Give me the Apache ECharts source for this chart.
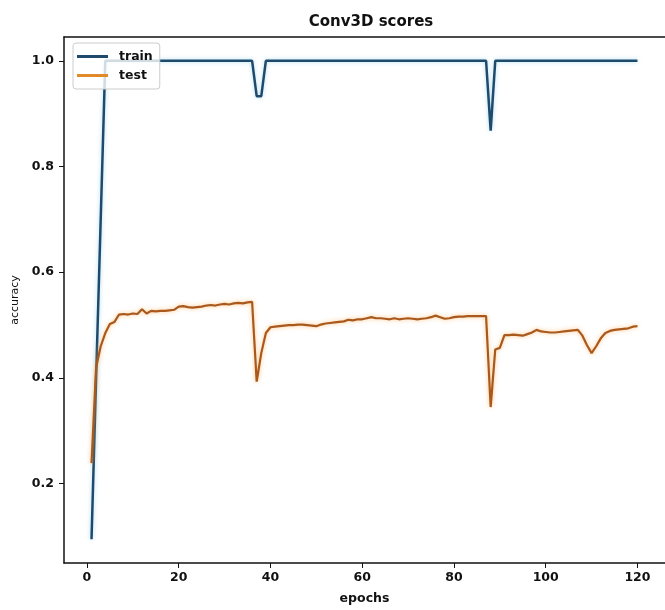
<!DOCTYPE html>
<html>
<head>
<meta charset="utf-8">
<script src="https://cdn.jsdelivr.net/npm/echarts@6/dist/echarts.min.js"></script>
<style>html,body{margin:0;padding:0;background:#fff;}#c{width:665px;height:610px;}</style>
</head>
<body>
<div id="c"></div>
<script>
const titleText = 'Conv3D scores';
const xName = 'epochs';
const yName = 'accuracy';
const seriesNames = ['train', 'test'];
const xTicks = [0, 20, 40, 60, 80, 100, 120];
const yTicks = [0.2, 0.4, 0.6, 0.8, 1.0];

// epochs 1..120
const epochs = Array.from({length: 120}, (_, i) => i + 1);

const trainAcc = [
  0.095, 0.40, 0.70, 1.0, 1.0, 1.0, 1.0, 1.0, 1.0, 1.0,
  1.0, 1.0, 1.0, 1.0, 1.0, 1.0, 1.0, 1.0, 1.0, 1.0,
  1.0, 1.0, 1.0, 1.0, 1.0, 1.0, 1.0, 1.0, 1.0, 1.0,
  1.0, 1.0, 1.0, 1.0, 1.0, 1.0, 0.933, 0.933, 1.0, 1.0,
  1.0, 1.0, 1.0, 1.0, 1.0, 1.0, 1.0, 1.0, 1.0, 1.0,
  1.0, 1.0, 1.0, 1.0, 1.0, 1.0, 1.0, 1.0, 1.0, 1.0,
  1.0, 1.0, 1.0, 1.0, 1.0, 1.0, 1.0, 1.0, 1.0, 1.0,
  1.0, 1.0, 1.0, 1.0, 1.0, 1.0, 1.0, 1.0, 1.0, 1.0,
  1.0, 1.0, 1.0, 1.0, 1.0, 1.0, 1.0, 0.868, 1.0, 1.0,
  1.0, 1.0, 1.0, 1.0, 1.0, 1.0, 1.0, 1.0, 1.0, 1.0,
  1.0, 1.0, 1.0, 1.0, 1.0, 1.0, 1.0, 1.0, 1.0, 1.0,
  1.0, 1.0, 1.0, 1.0, 1.0, 1.0, 1.0, 1.0, 1.0, 1.0
];

const testAcc = [
  0.239, 0.420, 0.460, 0.485, 0.502, 0.506, 0.520, 0.521, 0.520, 0.522,
  0.521, 0.530, 0.522, 0.527, 0.526, 0.527, 0.527, 0.528, 0.529, 0.535,
  0.536, 0.534, 0.533, 0.534, 0.535, 0.537, 0.538, 0.537, 0.539, 0.540,
  0.539, 0.541, 0.542, 0.541, 0.543, 0.544, 0.393, 0.447, 0.485, 0.496,
  0.497, 0.498, 0.499, 0.500, 0.500, 0.501, 0.501, 0.500, 0.499, 0.498,
  0.501, 0.503, 0.504, 0.505, 0.506, 0.507, 0.510, 0.509, 0.511, 0.511,
  0.513, 0.515, 0.513, 0.513, 0.512, 0.511, 0.513, 0.511, 0.512, 0.513,
  0.512, 0.511, 0.512, 0.513, 0.515, 0.518, 0.515, 0.512, 0.513, 0.515,
  0.516, 0.516, 0.517, 0.517, 0.517, 0.517, 0.517, 0.345, 0.454, 0.457,
  0.481, 0.481, 0.482, 0.481, 0.480, 0.483, 0.486, 0.491, 0.488, 0.487,
  0.486, 0.486, 0.487, 0.488, 0.489, 0.490, 0.491, 0.480, 0.462, 0.447,
  0.460, 0.475, 0.485, 0.489, 0.491, 0.492, 0.493, 0.494, 0.497, 0.498
];

const font = 'DejaVu Sans';
const chart = echarts.init(document.getElementById('c'), null, {renderer: 'canvas'});

chart.setOption({
  animation: false,
  backgroundColor: '#ffffff',
  title: {
    text: titleText,
    left: 366,
    textAlign: 'center',
    top: 10,
    textStyle: {fontFamily: font, fontSize: 15, fontWeight: 'bold', color: '#111'}
  },
  legend: {
    orient: 'vertical',
    left: 73,
    top: 43,
    padding: [7, 7, 7, 4],
    itemGap: 6,
    itemWidth: 31,
    itemHeight: 3,
    icon: 'rect',
    backgroundColor: 'rgba(255,255,255,0.8)',
    borderColor: '#cccccc',
    borderWidth: 1,
    borderRadius: 3,
    textStyle: {fontFamily: font, fontSize: 12.5, fontWeight: 'bold', color: '#111', padding: [0, 0, 0, 6]},
    data: seriesNames
  },
  grid: {
    left: 64,
    right: -4,
    top: 37,
    bottom: 36,
    show: false
  },
  xAxis: [
    {
      type: 'value',
      min: -5,
      max: 126,
      position: 'bottom',
      name: xName,
      nameLocation: 'middle',
      nameGap: 29,
      nameTextStyle: {fontFamily: font, fontSize: 12.5, fontWeight: 'bold', color: '#111'},
      axisLine: {show: true, onZero: false, lineStyle: {color: '#111', width: 1.5}},
      axisTick: {show: true, length: 5, customValues: xTicks, lineStyle: {color: '#111', width: 1}},
      axisLabel: {customValues: xTicks, margin: 8, fontFamily: font, fontSize: 12.5, fontWeight: 'bold', color: '#111'},
      splitLine: {show: false}
    },
    {
      type: 'value',
      min: -5,
      max: 126,
      position: 'top',
      axisLine: {show: true, onZero: false, lineStyle: {color: '#111', width: 1.5}},
      axisTick: {show: false},
      axisLabel: {show: false},
      splitLine: {show: false}
    }
  ],
  yAxis: {
    type: 'value',
    min: 0.05,
    max: 1.045,
    name: yName,
    nameLocation: 'middle',
    nameRotate: 90,
    nameGap: 40,
    nameTextStyle: {fontFamily: font, fontSize: 11, color: '#111'},
    axisLine: {show: true, onZero: false, lineStyle: {color: '#111', width: 1.5}},
    axisTick: {show: true, length: 5, customValues: yTicks, lineStyle: {color: '#111', width: 1}},
    axisLabel: {customValues: yTicks, margin: 10, fontFamily: font, fontSize: 12.5, fontWeight: 'bold', color: '#111',
      formatter: v => v.toFixed(1)},
    splitLine: {show: false}
  },
  series: [
    {
      name: seriesNames[0],
      type: 'line',
      xAxisIndex: 0,
      showSymbol: false,
      symbol: 'none',
      data: epochs.map((e, i) => [e, trainAcc[i]]),
      lineStyle: {color: '#1f4a6b', width: 2.5, shadowColor: 'rgba(120,200,235,0.6)', shadowBlur: 4},
      itemStyle: {color: '#1f4a6b'},
      z: 2
    },
    {
      name: seriesNames[1],
      type: 'line',
      xAxisIndex: 0,
      showSymbol: false,
      symbol: 'none',
      data: epochs.map((e, i) => [e, testAcc[i]]),
      lineStyle: {color: '#a9591c', width: 2.2, shadowColor: 'rgba(255,170,80,0.7)', shadowBlur: 4},
      itemStyle: {color: '#e08a2a'},
      z: 3
    }
  ]
});
</script>
</body>
</html>
